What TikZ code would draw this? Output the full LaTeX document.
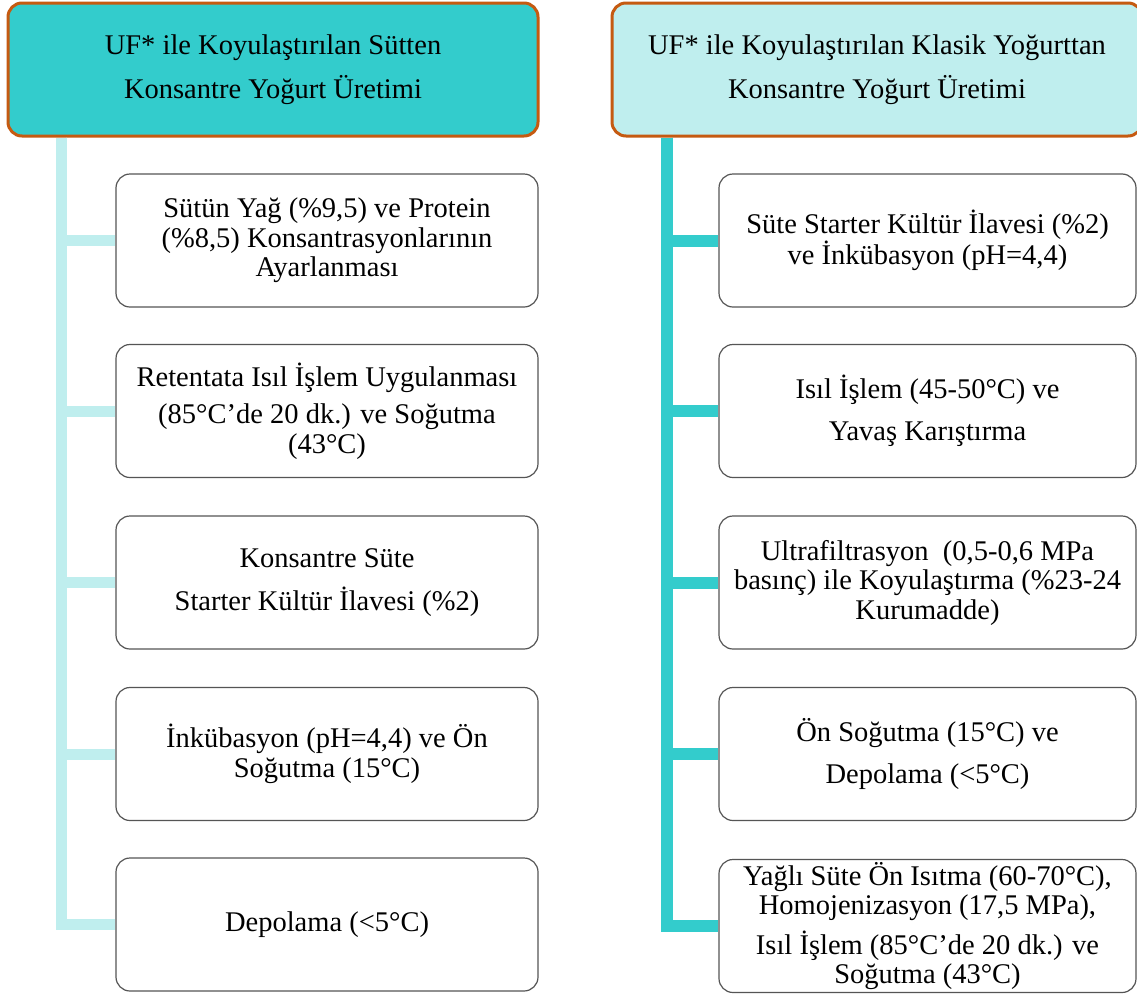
\documentclass[tikz,border=0pt]{standalone}
\usepackage{fontspec}
\setmainfont{Liberation Serif}
\definecolor{hdrdark}{HTML}{33CCCC}
\definecolor{hdrlight}{HTML}{BFEEEE}
\definecolor{hdrborder}{HTML}{C55A11}
\definecolor{boxborder}{HTML}{555555}
\tikzset{
  hdrbox/.style={draw=hdrborder, line width=3pt, rounded corners=14pt,
    minimum width=530pt, minimum height=133pt, align=center, inner sep=0pt,
    font=\fontsize{28.5}{44}\selectfont},
  stepbox/.style={draw=boxborder, line width=1.2pt, rounded corners=14pt, fill=white,
    minimum height=133pt, align=center, inner sep=0pt,
    font=\fontsize{28.5}{29.5}\selectfont},
  leftbox/.style={stepbox, minimum width=422pt},
  rightbox/.style={stepbox, minimum width=417pt},
  connL/.style={draw=hdrlight, line width=11pt, line join=miter},
  connR/.style={draw=hdrdark, line width=12pt, line join=miter}
}
\begin{document}
\begin{tikzpicture}[x=1pt,y=-1pt]
\useasboundingbox (0,0) rectangle (1137,996);
\fill[white] (0,0) rectangle (1137,996);

% headers
\node[hdrbox, fill=hdrdark] (hL) at (273,69.5) {UF* ile Koyulaştırılan Sütten\\Konsantre Yoğurt Üretimi};
\node[hdrbox, fill=hdrlight] (hR) at (877,69.5) {UF* ile Koyulaştırılan Klasik Yoğurttan\\Konsantre Yoğurt Üretimi};

% left column
\node[leftbox] (bL1) at (327,240.5) {Sütün Yağ (\%9,5) ve Protein\\(\%8,5) Konsantrasyonlarının\\Ayarlanması};
\node[leftbox] (bL2) at (327,411) {Retentata Isıl İşlem Uygulanması\\[8pt](85°C’de 20 dk.) ve Soğutma\\(43°C)};
\node[leftbox] (bL3) at (327,582.5) {Konsantre Süte\\[13pt]Starter Kültür İlavesi (\%2)};
\node[leftbox] (bL4) at (327,754) {İnkübasyon (pH=4,4) ve Ön\\Soğutma (15°C)};
\node[leftbox] (bL5) at (327,924.5) {Depolama (<5°C)};

% right column
\node[rightbox] (bR1) at (927.5,240.5) {Süte Starter Kültür İlavesi (\%2)\\ve İnkübasyon (pH=4,4)};
\node[rightbox] (bR2) at (927.5,411) {Isıl İşlem (45-50°C) ve\\[13pt]Yavaş Karıştırma};
\node[rightbox] (bR3) at (927.5,582.5) {Ultrafiltrasyon~ (0,5-0,6 MPa\\basınç) ile Koyulaştırma (\%23-24\\Kurumadde)};
\node[rightbox] (bR4) at (927.5,754) {Ön Soğutma (15°C) ve\\[12pt]Depolama (<5°C)};
\node[rightbox] (bR5) at (927.5,926) {Yağlı Süte Ön Isıtma (60-70°C),\\Homojenizasyon (17,5 MPa),\\[9pt]Isıl İşlem (85°C’de 20 dk.) ve\\Soğutma (43°C)};

\coordinate (tL) at (61.5,137.5);
\coordinate (tR) at (667,137.5);

\foreach \b in {bL1,bL2,bL3,bL4,bL5} \draw[connL] (tL) |- (\b.west);
\foreach \b in {bR1,bR2,bR3,bR4,bR5} \draw[connR] (tR) |- (\b.west);
\end{tikzpicture}
\end{document}
